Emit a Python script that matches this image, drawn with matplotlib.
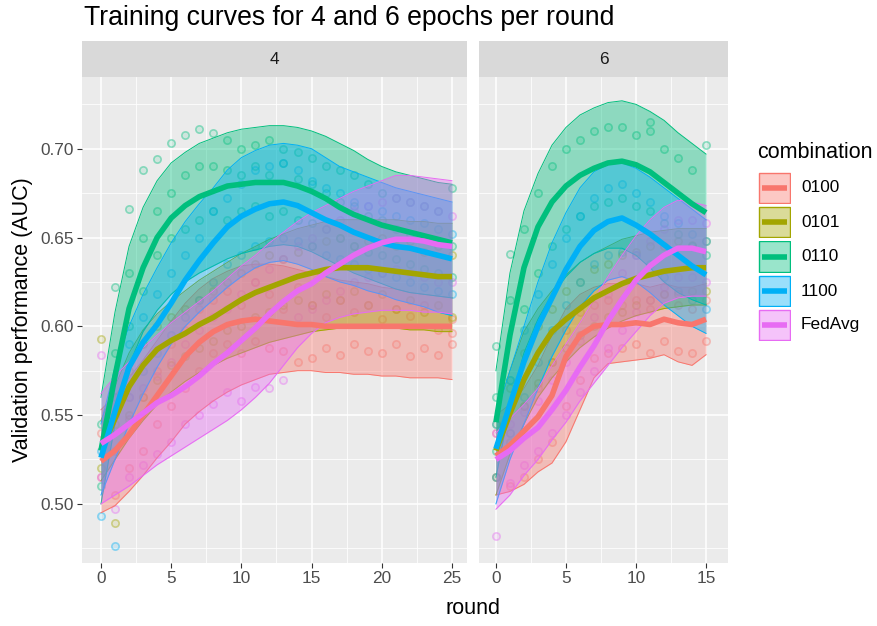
import matplotlib
matplotlib.use("Agg")
import matplotlib.pyplot as plt
from matplotlib.colors import to_rgba
from matplotlib.patches import Rectangle
from matplotlib.ticker import MultipleLocator

plt.rcParams["font.family"] = ["Liberation Sans", "DejaVu Sans"]

combos = ["0100", "0101", "0110", "1100", "FedAvg"]
colors = {"0100": "#F8766D", "0101": "#A3A500", "0110": "#00BF7D",
          "1100": "#00B0F6", "FedAvg": "#E76BF3"}

rounds4 = list(range(26))
rounds6 = list(range(16))

# smoothed curves, 4 epochs per round
mean4 = {
    "0100": [0.524, 0.530, 0.539, 0.550, 0.561, 0.572, 0.583, 0.591, 0.597, 0.601, 0.603, 0.604, 0.603,
             0.602, 0.601, 0.601, 0.600, 0.600, 0.600, 0.600, 0.600, 0.600, 0.600, 0.600, 0.600, 0.600],
    "0101": [0.530, 0.548, 0.566, 0.578, 0.587, 0.592, 0.596, 0.601, 0.605, 0.610, 0.615, 0.619, 0.622,
             0.625, 0.628, 0.630, 0.632, 0.633, 0.633, 0.633, 0.632, 0.631, 0.630, 0.629, 0.628, 0.628],
    "0110": [0.530, 0.572, 0.610, 0.633, 0.650, 0.661, 0.668, 0.673, 0.676, 0.679, 0.680, 0.681, 0.681,
             0.681, 0.679, 0.676, 0.672, 0.667, 0.663, 0.660, 0.657, 0.655, 0.653, 0.651, 0.649, 0.647],
    "1100": [0.526, 0.552, 0.577, 0.591, 0.601, 0.613, 0.626, 0.637, 0.647, 0.656, 0.662, 0.666, 0.669,
             0.670, 0.668, 0.664, 0.660, 0.657, 0.653, 0.650, 0.647, 0.645, 0.644, 0.642, 0.640, 0.638],
    "FedAvg": [0.534, 0.539, 0.545, 0.551, 0.557, 0.561, 0.566, 0.572, 0.579, 0.585, 0.592, 0.599, 0.607,
               0.614, 0.620, 0.624, 0.630, 0.635, 0.640, 0.644, 0.647, 0.649, 0.649, 0.648, 0.646, 0.645],
}
lo4 = {
    "0100": [0.495, 0.499, 0.507, 0.516, 0.526, 0.535, 0.545, 0.552, 0.558, 0.563, 0.567, 0.570, 0.573,
             0.574, 0.575, 0.575, 0.574, 0.574, 0.573, 0.573, 0.572, 0.572, 0.571, 0.571, 0.571, 0.570],
    "0101": [0.513, 0.525, 0.537, 0.547, 0.556, 0.563, 0.569, 0.574, 0.578, 0.582, 0.585, 0.588, 0.591,
             0.593, 0.595, 0.597, 0.598, 0.599, 0.599, 0.599, 0.599, 0.599, 0.598, 0.598, 0.597, 0.597],
    "0110": [0.500, 0.545, 0.578, 0.597, 0.609, 0.618, 0.625, 0.630, 0.634, 0.638, 0.641, 0.643, 0.645,
             0.646, 0.645, 0.642, 0.638, 0.634, 0.630, 0.627, 0.624, 0.621, 0.619, 0.618, 0.617, 0.616],
    "1100": [0.505, 0.525, 0.545, 0.562, 0.577, 0.590, 0.600, 0.608, 0.615, 0.622, 0.628, 0.633, 0.636,
             0.637, 0.635, 0.632, 0.628, 0.625, 0.623, 0.620, 0.618, 0.615, 0.613, 0.611, 0.608, 0.606],
    "FedAvg": [0.500, 0.505, 0.510, 0.516, 0.522, 0.527, 0.532, 0.537, 0.542, 0.547, 0.553, 0.560, 0.568,
               0.578, 0.588, 0.596, 0.602, 0.605, 0.607, 0.608, 0.609, 0.609, 0.609, 0.608, 0.608, 0.607],
}
hi4 = {
    "0100": [0.553, 0.561, 0.571, 0.581, 0.592, 0.603, 0.613, 0.621, 0.627, 0.631, 0.634, 0.635, 0.635,
             0.634, 0.632, 0.630, 0.628, 0.626, 0.625, 0.624, 0.622, 0.621, 0.619, 0.618, 0.617, 0.616],
    "0101": [0.547, 0.566, 0.585, 0.598, 0.607, 0.614, 0.620, 0.626, 0.631, 0.636, 0.641, 0.645, 0.649,
             0.652, 0.655, 0.657, 0.659, 0.660, 0.660, 0.660, 0.660, 0.660, 0.659, 0.659, 0.658, 0.658],
    "0110": [0.560, 0.608, 0.645, 0.667, 0.682, 0.692, 0.698, 0.703, 0.706, 0.709, 0.711, 0.712, 0.713,
             0.713, 0.712, 0.710, 0.707, 0.703, 0.699, 0.694, 0.690, 0.687, 0.685, 0.683, 0.681, 0.680],
    "1100": [0.545, 0.577, 0.600, 0.618, 0.633, 0.647, 0.659, 0.669, 0.678, 0.688, 0.695, 0.699, 0.702,
             0.703, 0.702, 0.700, 0.695, 0.690, 0.687, 0.684, 0.681, 0.678, 0.676, 0.674, 0.672, 0.670],
    "FedAvg": [0.562, 0.572, 0.580, 0.588, 0.595, 0.602, 0.608, 0.614, 0.620, 0.627, 0.634, 0.640, 0.647,
               0.653, 0.659, 0.664, 0.668, 0.672, 0.676, 0.679, 0.682, 0.685, 0.685, 0.684, 0.683, 0.682],
}
# raw validation points, one list per round
pts4 = {
    "0100": [[0.515, 0.540], [0.505, 0.530], [0.520, 0.548], [0.530, 0.560], [0.545, 0.575], [0.555, 0.590],
             [0.565, 0.598], [0.575, 0.610], [0.585, 0.615], [0.590, 0.620], [0.585, 0.612], [0.592, 0.625],
             [0.588, 0.618], [0.586, 0.610], [0.580, 0.622], [0.582, 0.612], [0.588, 0.605], [0.584, 0.615],
             [0.590, 0.608], [0.586, 0.612], [0.585, 0.604], [0.590, 0.610], [0.583, 0.606], [0.588, 0.612],
             [0.584, 0.598], [0.590, 0.604, 0.596]],
    "0101": [[0.520, 0.593], [0.489, 0.545], [0.550, 0.575], [0.560, 0.590], [0.570, 0.600], [0.578, 0.605],
             [0.583, 0.610], [0.588, 0.615], [0.592, 0.620], [0.598, 0.625], [0.600, 0.630], [0.605, 0.635],
             [0.608, 0.640], [0.612, 0.638], [0.615, 0.642], [0.612, 0.645], [0.618, 0.648], [0.615, 0.650],
             [0.620, 0.645], [0.612, 0.648], [0.618, 0.650], [0.610, 0.645], [0.615, 0.648], [0.608, 0.642],
             [0.612, 0.645], [0.605, 0.640]],
    "0110": [[0.510, 0.545], [0.560, 0.622, 0.585], [0.600, 0.666, 0.630], [0.620, 0.688, 0.650],
             [0.640, 0.694, 0.665], [0.650, 0.703, 0.675], [0.655, 0.708, 0.685], [0.660, 0.711, 0.690],
             [0.665, 0.709, 0.690], [0.660, 0.705, 0.688], [0.665, 0.700, 0.685], [0.668, 0.702, 0.690],
             [0.662, 0.705, 0.685], [0.665, 0.700, 0.692], [0.660, 0.698, 0.683], [0.658, 0.695, 0.680],
             [0.655, 0.690, 0.675], [0.650, 0.688, 0.670], [0.645, 0.685, 0.668], [0.642, 0.680, 0.662],
             [0.640, 0.675, 0.660], [0.638, 0.672, 0.655], [0.635, 0.670, 0.652], [0.632, 0.668, 0.650],
             [0.630, 0.665, 0.648], [0.628, 0.678, 0.645]],
    "1100": [[0.493, 0.530], [0.476, 0.550], [0.560, 0.590], [0.575, 0.605], [0.585, 0.618], [0.595, 0.630],
             [0.605, 0.640], [0.615, 0.650], [0.625, 0.665], [0.635, 0.672], [0.640, 0.680], [0.645, 0.688],
             [0.648, 0.690], [0.650, 0.692], [0.648, 0.688], [0.645, 0.682], [0.640, 0.678], [0.638, 0.675],
             [0.635, 0.670], [0.632, 0.668], [0.630, 0.665], [0.628, 0.662], [0.625, 0.660], [0.622, 0.658],
             [0.620, 0.655], [0.618, 0.652]],
    "FedAvg": [[0.515, 0.584], [0.497, 0.550], [0.515, 0.560], [0.522, 0.565], [0.528, 0.572], [0.535, 0.580],
               [0.545, 0.590], [0.550, 0.598], [0.556, 0.605], [0.563, 0.610], [0.558, 0.618], [0.566, 0.625],
               [0.565, 0.632], [0.570, 0.638], [0.605, 0.645], [0.610, 0.650], [0.615, 0.655], [0.620, 0.660],
               [0.625, 0.665], [0.628, 0.668], [0.630, 0.670], [0.632, 0.672], [0.630, 0.670], [0.628, 0.668],
               [0.625, 0.665], [0.625, 0.662]],
}

# smoothed curves, 6 epochs per round
mean6 = {
    "0100": [0.527, 0.533, 0.541, 0.549, 0.561, 0.583, 0.595, 0.600, 0.601, 0.601, 0.602, 0.601, 0.604, 0.602, 0.601, 0.604],
    "0101": [0.530, 0.551, 0.570, 0.585, 0.597, 0.604, 0.610, 0.616, 0.620, 0.624, 0.627, 0.629, 0.631, 0.632, 0.633, 0.633],
    "0110": [0.546, 0.595, 0.633, 0.656, 0.670, 0.679, 0.685, 0.689, 0.692, 0.693, 0.691, 0.687, 0.681, 0.675, 0.669, 0.664],
    "1100": [0.531, 0.556, 0.580, 0.600, 0.616, 0.632, 0.645, 0.654, 0.659, 0.661, 0.657, 0.652, 0.646, 0.640, 0.634, 0.629],
    "FedAvg": [0.525, 0.530, 0.537, 0.543, 0.553, 0.564, 0.577, 0.589, 0.603, 0.615, 0.626, 0.634, 0.640, 0.644, 0.644, 0.642],
}
lo6 = {
    "0100": [0.505, 0.507, 0.511, 0.518, 0.523, 0.535, 0.553, 0.571, 0.579, 0.580, 0.581, 0.582, 0.584, 0.580, 0.578, 0.584],
    "0101": [0.505, 0.528, 0.545, 0.560, 0.571, 0.580, 0.588, 0.594, 0.599, 0.603, 0.606, 0.608, 0.610, 0.611, 0.612, 0.612],
    "0110": [0.515, 0.555, 0.585, 0.604, 0.618, 0.628, 0.636, 0.641, 0.644, 0.644, 0.640, 0.633, 0.625, 0.619, 0.615, 0.612],
    "1100": [0.500, 0.525, 0.545, 0.565, 0.583, 0.598, 0.611, 0.620, 0.626, 0.628, 0.625, 0.619, 0.612, 0.606, 0.600, 0.596],
    "FedAvg": [0.497, 0.505, 0.516, 0.525, 0.536, 0.546, 0.558, 0.568, 0.578, 0.588, 0.597, 0.606, 0.613, 0.616, 0.617, 0.617],
}
hi6 = {
    "0100": [0.550, 0.556, 0.565, 0.578, 0.595, 0.610, 0.618, 0.622, 0.624, 0.624, 0.624, 0.622, 0.624, 0.622, 0.622, 0.624],
    "0101": [0.550, 0.575, 0.597, 0.610, 0.620, 0.629, 0.636, 0.641, 0.645, 0.649, 0.651, 0.653, 0.654, 0.655, 0.655, 0.655],
    "0110": [0.575, 0.630, 0.665, 0.686, 0.702, 0.712, 0.719, 0.723, 0.726, 0.727, 0.725, 0.721, 0.716, 0.709, 0.703, 0.697],
    "1100": [0.550, 0.575, 0.600, 0.625, 0.647, 0.664, 0.678, 0.687, 0.691, 0.692, 0.689, 0.684, 0.678, 0.672, 0.666, 0.660],
    "FedAvg": [0.540, 0.548, 0.556, 0.565, 0.578, 0.590, 0.602, 0.615, 0.628, 0.640, 0.651, 0.660, 0.667, 0.671, 0.670, 0.668],
}
pts6 = {
    "0100": [[0.515, 0.540], [0.510, 0.540], [0.515, 0.555], [0.525, 0.565], [0.535, 0.580], [0.555, 0.598],
             [0.570, 0.608], [0.582, 0.612], [0.585, 0.615], [0.588, 0.612], [0.590, 0.615], [0.585, 0.610],
             [0.592, 0.618], [0.586, 0.612], [0.585, 0.610], [0.592, 0.615]],
    "0101": [[0.515, 0.545], [0.535, 0.565], [0.555, 0.585], [0.568, 0.600], [0.580, 0.610], [0.588, 0.620],
             [0.595, 0.625], [0.600, 0.632], [0.605, 0.635], [0.608, 0.640], [0.612, 0.642], [0.615, 0.645],
             [0.618, 0.645], [0.618, 0.648], [0.620, 0.646], [0.620, 0.648]],
    "0110": [[0.530, 0.560, 0.589], [0.570, 0.615, 0.641], [0.610, 0.655], [0.630, 0.675], [0.645, 0.690],
             [0.655, 0.700], [0.662, 0.705], [0.668, 0.710], [0.670, 0.712], [0.672, 0.712], [0.668, 0.708],
             [0.665, 0.710, 0.715], [0.658, 0.700], [0.652, 0.695], [0.645, 0.688], [0.640, 0.702]],
    "1100": [[0.515, 0.545], [0.540, 0.570], [0.560, 0.598], [0.580, 0.618], [0.598, 0.635], [0.612, 0.650],
             [0.625, 0.662], [0.635, 0.672], [0.640, 0.678], [0.642, 0.680], [0.640, 0.675], [0.635, 0.670],
             [0.628, 0.662], [0.620, 0.658], [0.615, 0.652], [0.610, 0.648]],
    "FedAvg": [[0.482, 0.540], [0.512, 0.545], [0.522, 0.552], [0.530, 0.558], [0.540, 0.570], [0.550, 0.580],
               [0.563, 0.592], [0.575, 0.605], [0.588, 0.618], [0.598, 0.630], [0.608, 0.640], [0.615, 0.648],
               [0.622, 0.655], [0.628, 0.660], [0.628, 0.660], [0.625, 0.658]],
}

W, H = 878, 626
fig = plt.figure(figsize=(W / 100, H / 100), dpi=100)
fig.patch.set_facecolor("white")


def px_box(x0, y0, x1, y1):
    return [x0 / W, 1 - y1 / H, (x1 - x0) / W, (y1 - y0) / H]


ylim = (0.4667, 0.7404)


def draw_panel(box, rounds, means, los, his, pts, xlim, label, show_y):
    ax = fig.add_axes(px_box(*box))
    ax.set_facecolor("#EBEBEB")
    for s in ax.spines.values():
        s.set_visible(False)
    ax.set_xlim(*xlim)
    ax.set_ylim(*ylim)
    ax.xaxis.set_major_locator(MultipleLocator(5))
    ax.xaxis.set_minor_locator(MultipleLocator(2.5))
    ax.yaxis.set_major_locator(MultipleLocator(0.05))
    ax.yaxis.set_minor_locator(MultipleLocator(0.025))
    ax.grid(which="major", color="white", lw=1.1)
    ax.grid(which="minor", color="white", lw=0.55)
    ax.set_axisbelow(True)
    ax.tick_params(which="minor", length=0)
    ax.tick_params(which="major", length=3.5, width=0.8, color="#333333",
                   labelsize=12.4, labelcolor="#4D4D4D", pad=2.5)
    ax.yaxis.set_major_formatter(plt.FuncFormatter(lambda v, p: f"{v:.2f}"))
    if not show_y:
        ax.tick_params(axis="y", labelleft=False, length=0)

    for c in combos:
        xs = [r for r, vals in zip(rounds, pts[c]) for _ in vals]
        ys = [v for vals in pts[c] for v in vals]
        ax.scatter(xs, ys, s=28, facecolors=to_rgba(colors[c], 0.12),
                   edgecolors=to_rgba(colors[c], 0.4), linewidths=1.2, zorder=2)
    for c in combos:
        ax.fill_between(rounds, los[c], his[c], color=colors[c], alpha=0.4, lw=0, zorder=3)
        ax.plot(rounds, los[c], color=colors[c], lw=0.7, zorder=3)
        ax.plot(rounds, his[c], color=colors[c], lw=0.7, zorder=3)
    for c in combos:
        ax.plot(rounds, means[c], color=colors[c], lw=4, solid_capstyle="butt", zorder=4)

    sx = fig.add_axes(px_box(box[0], 41, box[2], 77))
    sx.set_facecolor("#D9D9D9")
    sx.set_xticks([])
    sx.set_yticks([])
    for s in sx.spines.values():
        s.set_visible(False)
    sx.text(0.5, 0.5, label, ha="center", va="center", fontsize=12.4, color="#1A1A1A",
            transform=sx.transAxes)
    return ax


ax1 = draw_panel((82, 77, 467, 563), rounds4, mean4, lo4, hi4, pts4, (-1.35, 26.07), "4", True)
ax2 = draw_panel((479, 77, 728, 563), rounds6, mean6, lo6, hi6, pts6, (-1.21, 16.57), "6", False)

ax1.set_ylabel("Validation performance (AUC)", fontsize=15.5, color="black", labelpad=5)
fig.text(473 / W, 1 - 608 / H, "round", ha="center", va="center", fontsize=15.5)
fig.text(84 / W, 1 - 18 / H, "Training curves for 4 and 6 epochs per round",
         ha="left", va="center", fontsize=19.2)

# legend
fig.text(757 / W, 1 - 152 / H, "combination", ha="left", va="center", fontsize=15.5)
key_tops = [172, 206, 240.5, 275, 309]
for c, top in zip(combos, key_tops):
    kx = fig.add_axes(px_box(758, top, 791, top + 32))
    kx.set_xlim(0, 1)
    kx.set_ylim(0, 1)
    kx.axis("off")
    kx.add_patch(Rectangle((0.03, 0.03), 0.94, 0.94, facecolor=to_rgba(colors[c], 0.4),
                           edgecolor=colors[c], lw=1.0))
    kx.plot([0.12, 0.88], [0.5, 0.5], color=colors[c], lw=4, solid_capstyle="butt")
    fig.text(801 / W, 1 - (top + 16) / H, c, ha="left", va="center", fontsize=12.4, color="black")

fig.savefig("out.png", dpi=100)
